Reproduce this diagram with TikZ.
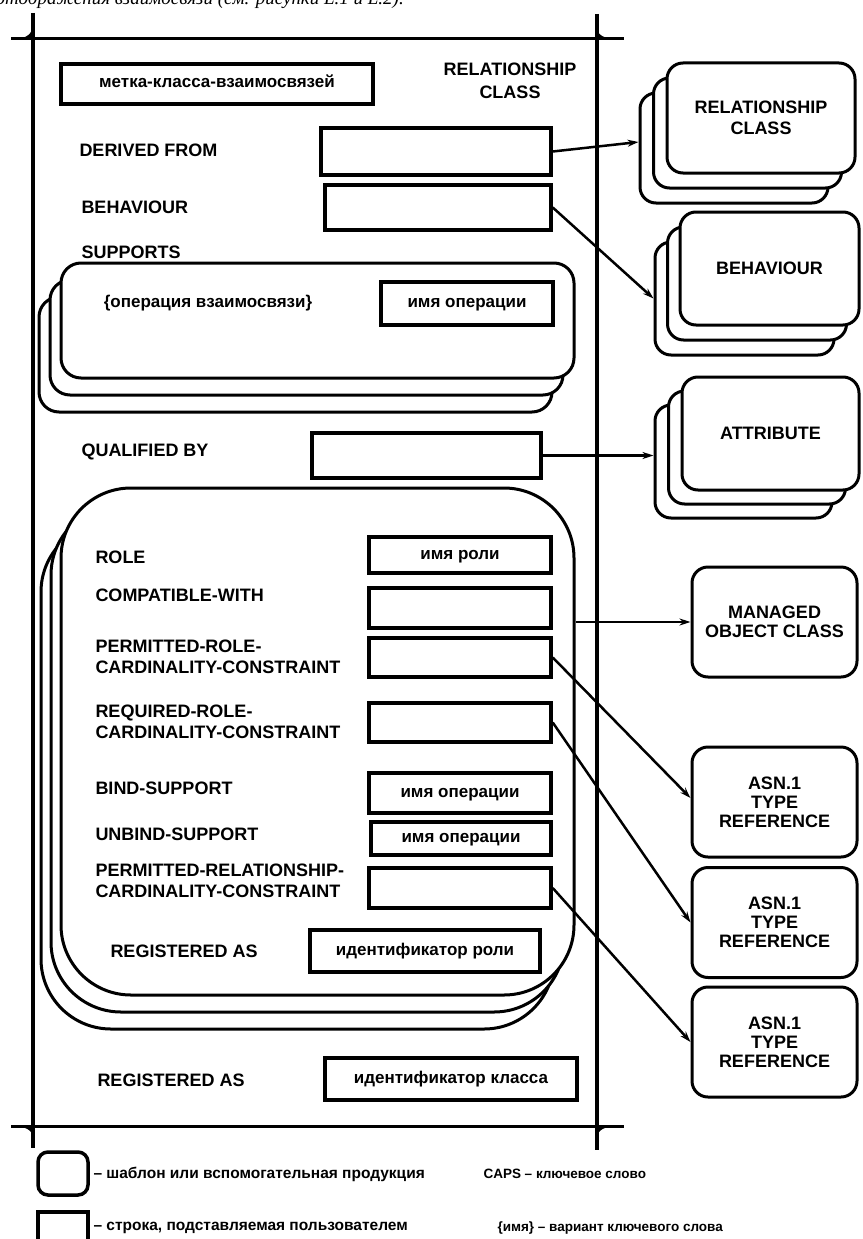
\documentclass[tikz,border=0pt]{standalone}
\usepackage{fontspec}
\setmainfont{Liberation Sans}
\newfontfamily\serifit{Liberation Serif}
\usetikzlibrary{arrows.meta}

\begin{document}
\begin{tikzpicture}[x=1pt, y=-1pt, line width=3pt,
	kw/.style = {anchor=west, align=left, inner sep=0pt,
		font=\fontsize{18}{21}\selectfont\bfseries},
	field/.style = {draw, line width=3.5pt, inner sep=0pt,
		text height=10pt, text depth=2pt,
		font=\fontsize{17}{20}\selectfont\bfseries},
	tmpl/.style = {draw, fill=white, rounded corners=16pt,
		inner sep=0pt, align=center,
		font=\fontsize{18}{19}\selectfont\bfseries},
	note/.style = {anchor=west, inner sep=0pt,
		font=\fontsize{15.5}{17}\selectfont\bfseries},
	arr/.style = {-{Stealth[length=11pt,width=7pt]}, line width=2.5pt}]

	\useasboundingbox (0,0) rectangle (862,1239);

	% line of the text above, cut by the page
	\node[anchor=base west, inner sep=0pt,
		font=\serifit\itshape\fontsize{19}{22}\selectfont] (head) at (-6,5)
		{отображения взаимосвязи (см. рисунки L.1 и L.2).};

	% frame
	\draw[line width=3.5pt] (33,13) -- (33,1148);
	\draw[line width=3.5pt] (597,14) -- (597,1150);
	\draw (11,39) -- (624,39);
	\draw (11,1126) -- (624,1126);
	\fill (33,39) -- (33,24) .. controls (33,34) and (26,39) .. (14,39) -- cycle;
	\fill (597,39) -- (597,28) .. controls (597,35) and (605,39) .. (616,39) -- cycle;
	\fill (33,1126) -- (33,1138) .. controls (33,1130) and (25,1126) .. (12,1126) -- cycle;
	\fill (597,1126) -- (597,1138) .. controls (597,1130) and (605,1126) .. (618,1126) -- cycle;

	\node[kw, anchor=center, align=center,
		font=\fontsize{18}{23}\selectfont\bfseries] (title) at (510,81) {RELATIONSHIP\\CLASS};
	\node[field, minimum width=312pt, minimum height=40pt] (lbl) at (217,84) {метка-класса-взаимосвязей};

	\node[kw] (derT) at (78,150) {DERIVED FROM};
	\node[field, minimum width=230pt, minimum height=47pt] (der) at (436,151.5) {};
	\node[kw] (behT) at (80,207) {BEHAVIOUR};
	\node[field, minimum width=226pt, minimum height=45pt] (beh) at (438,207.5) {};
	\node[kw] (supT) at (80,252) {SUPPORTS};

	% supports
	\node[tmpl, rounded corners=20pt, minimum width=513pt, minimum height=115pt] (sup3) at (295.5,354.5) {};
	\node[tmpl, rounded corners=20pt, minimum width=513pt, minimum height=115pt] (sup2) at (306.5,337.5) {};
	\node[tmpl, rounded corners=20pt, minimum width=513pt, minimum height=115pt] (sup) at (317.5,320.5) {};
	\node[kw, anchor=center, font=\fontsize{17}{20}\selectfont\bfseries] (supop) at (208,303) {\{операция взаимосвязи\}};
	\node[field, minimum width=172pt, minimum height=43pt] (opname) at (467,303.5) {имя операции};

	\node[kw] (qualT) at (80,452) {QUALIFIED BY};
	\node[field, minimum width=229pt, minimum height=45pt] (qual) at (426.5,455.5) {};

	% roles
	\node[tmpl, rounded corners=70pt, minimum width=513pt, minimum height=507pt] (role3) at (297.5,775.5) {};
	\node[tmpl, rounded corners=70pt, minimum width=513pt, minimum height=507pt] (role2) at (307.5,758.5) {};
	\node[tmpl, rounded corners=70pt, minimum width=513pt, minimum height=507pt] (role) at (317.5,741.5) {};

	\node[kw] (roleT) at (94,557) {ROLE};
	\node[field, minimum width=182pt, minimum height=36pt] (rname) at (460,555) {имя роли};
	\node[kw] (compT) at (94,595) {COMPATIBLE-WITH};
	\node[field, minimum width=182pt, minimum height=40pt] (comp) at (460,608) {};
	\node[kw] (permT) at (94,657) {PERMITTED-ROLE-\\CARDINALITY-CONSTRAINT};
	\node[field, minimum width=182pt, minimum height=39pt] (perm) at (460,657.5) {};
	\node[kw] (reqT) at (94,722) {REQUIRED-ROLE-\\CARDINALITY-CONSTRAINT};
	\node[field, minimum width=182pt, minimum height=39pt] (req) at (460,722.5) {};
	\node[kw] (bindT) at (94,788) {BIND-SUPPORT};
	\node[field, minimum width=182pt, minimum height=40pt] (bind) at (460,793) {имя операции};
	\node[kw] (unbindT) at (94,834) {UNBIND-SUPPORT};
	\node[field, minimum width=180pt, minimum height=33pt] (unbind) at (461,838.5) {имя операции};
	\node[kw] (prelT) at (94,881) {PERMITTED-RELATIONSHIP-\\CARDINALITY-CONSTRAINT};
	\node[field, minimum width=182pt, minimum height=40pt] (prel) at (460,888) {};
	\node[kw] (rregT) at (109,951) {REGISTERED AS};
	\node[field, minimum width=230pt, minimum height=42pt] (rreg) at (425,951) {идентификатор роли};

	\node[kw] (cregT) at (96,1080) {REGISTERED AS};
	\node[field, minimum width=252pt, minimum height=42pt] (creg) at (451,1079) {идентификатор класса};

	% templates on the right
	\node[tmpl, minimum width=188pt, minimum height=110pt] (rc3) at (734,148) {};
	\node[tmpl, minimum width=188pt, minimum height=110pt] (rc2) at (747.5,133) {};
	\node[tmpl, minimum width=188pt, minimum height=110pt,
		font=\fontsize{18}{21}\selectfont\bfseries] (rc) at (761,118) {RELATIONSHIP\\CLASS};

	\node[tmpl, minimum width=179pt, minimum height=113pt] (bh3) at (744.5,298.5) {};
	\node[tmpl, minimum width=179pt, minimum height=113pt] (bh2) at (757,283.5) {};
	\node[tmpl, minimum width=179pt, minimum height=113pt] (bh) at (769.5,268.5) {BEHAVIOUR};

	\node[tmpl, minimum width=177pt, minimum height=113pt] (at3) at (743.5,461.5) {};
	\node[tmpl, minimum width=177pt, minimum height=113pt] (at2) at (757,447.5) {};
	\node[tmpl, minimum width=177pt, minimum height=113pt] (at) at (770.5,433.5) {ATTRIBUTE};

	\node[tmpl, minimum width=165pt, minimum height=110pt] (mo) at (774.5,622) {MANAGED\\OBJECT CLASS};
	\node[tmpl, minimum width=165pt, minimum height=110pt] (asn1) at (774.5,802) {ASN.1\\TYPE\\REFERENCE};
	\node[tmpl, minimum width=165pt, minimum height=110pt] (asn2) at (774.5,922.5) {ASN.1\\TYPE\\REFERENCE};
	\node[tmpl, minimum width=165pt, minimum height=110pt] (asn3) at (774.5,1042) {ASN.1\\TYPE\\REFERENCE};

	\draw[arr] (der.east) -- ([yshift=6pt]rc3.west);
	\draw[arr] (beh.east) -- (bh3.west);
	\draw[arr] (qual.east) -- (qual.east -| at3.west);
	\draw[arr] (mo.west -| role.east) -- (mo.west);
	\draw[arr] (perm.east) -- ([yshift=4pt]asn1.west);
	\draw[arr] (req.east) -- (asn2.west);
	\draw[arr] (prel.east) -- (asn3.west);

	% legend
	\node[draw, line width=3.5pt, rounded corners=10pt,
		minimum width=50pt, minimum height=43pt] (lgtmpl) at (63,1173.5) {};
	\node[note] (lgtmplT) at (92,1174) {– шаблон или вспомогательная продукция};
	\node[note, font=\fontsize{13.5}{16}\selectfont\bfseries] (lgcaps) at (482,1174) {CAPS – ключевое слово};
	\node[draw, line width=3.5pt, minimum width=50pt, minimum height=40pt] (lgfield) at (63,1232) {};
	\node[note] (lgfieldT) at (92,1228) {– строка, подставляемая пользователем};
	\node[note, font=\fontsize{13.5}{16}\selectfont\bfseries] (lgname) at (496,1228) {\{имя\} – вариант ключевого слова};

\end{tikzpicture}
\end{document}
